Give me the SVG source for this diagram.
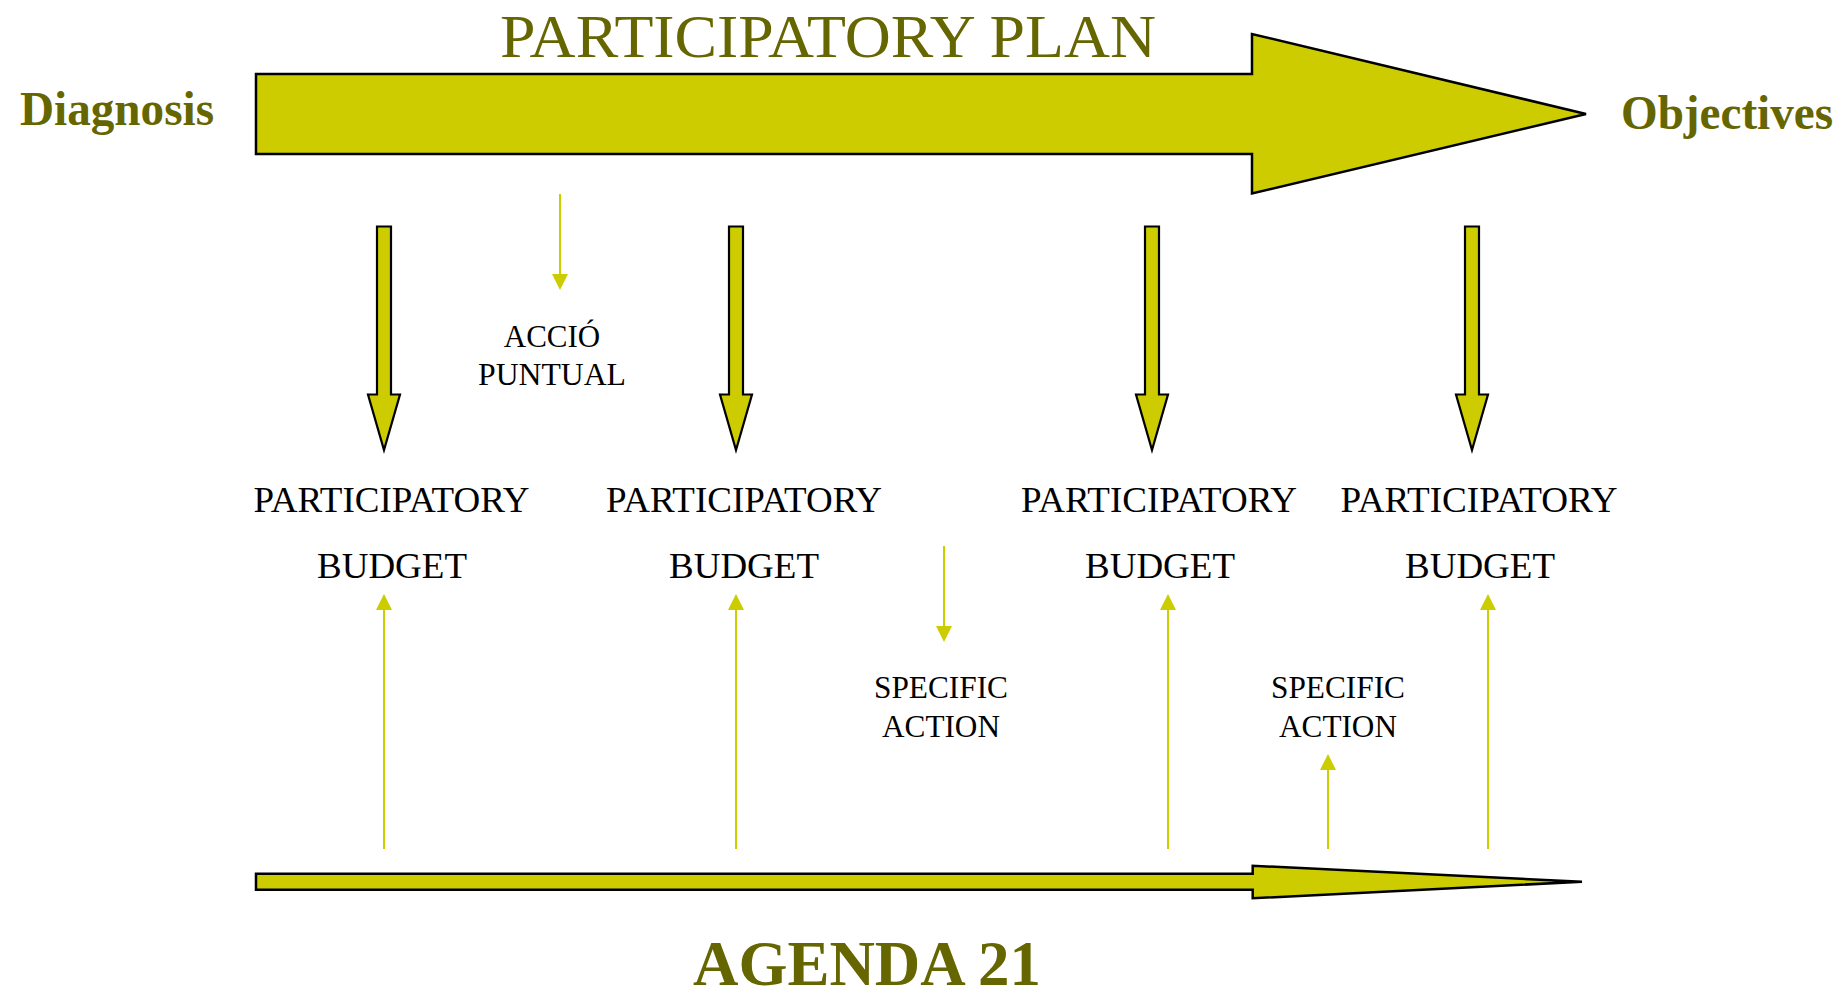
<svg xmlns="http://www.w3.org/2000/svg" width="1841" height="989" viewBox="0 0 1841 989">
<style>
.big{fill:#CCCC00;stroke:#000;stroke-width:2.5;stroke-linejoin:miter}
.blk{fill:#CCCC00;stroke:#000;stroke-width:2.2}
.thin{stroke:#CCCC00;stroke-width:2;fill:none}
.ol{font-family:"Liberation Serif","Times New Roman",serif;fill:#666600}
.lbl{font-family:"Liberation Serif","Times New Roman",serif;fill:#000;text-anchor:middle}
.pb{font-size:36px}
.sm{font-size:31px}
</style>
<defs>
<marker id="ah" viewBox="0 0 16 16" refX="0" refY="8" markerWidth="16" markerHeight="16" markerUnits="userSpaceOnUse" orient="auto">
<path d="M0,0 L16,8 L0,16 z" fill="#CCCC00"/>
</marker>
</defs>
<rect width="1841" height="989" fill="#fff"/>

<g id="participatory-plan">
<polygon class="big" points="256,74 1252,74 1252,34 1586,114 1252,193.5 1252,154 256,154"/>
<text class="ol" x="828" y="57" font-size="62" text-anchor="middle" textLength="656" lengthAdjust="spacingAndGlyphs">PARTICIPATORY PLAN</text>
</g>
<g id="diagnosis"><text class="ol" x="20" y="125" font-size="48" font-weight="bold" textLength="194" lengthAdjust="spacingAndGlyphs">Diagnosis</text></g>
<g id="objectives"><text class="ol" x="1621" y="129" font-size="48" font-weight="bold" textLength="212" lengthAdjust="spacingAndGlyphs">Objectives</text></g>

<g id="agenda21">
<polygon class="big" points="256,873.7 1252.7,873.7 1252.7,865.7 1582,881.7 1252.7,898.3 1252.7,889.7 256,889.7"/>
<text class="ol" x="867" y="985" font-size="63" font-weight="bold" text-anchor="middle" textLength="348" lengthAdjust="spacingAndGlyphs">AGENDA 21</text>
</g>

<g id="block-arrows">
<polygon class="blk" points="377,226.5 391,226.5 391,394.5 400,394.5 384,450 368,394.5 377,394.5"/>
<polygon class="blk" points="729,226.5 743,226.5 743,394.5 752,394.5 736,450 720,394.5 729,394.5"/>
<polygon class="blk" points="1145,226.5 1159,226.5 1159,394.5 1168,394.5 1152,450 1136,394.5 1145,394.5"/>
<polygon class="blk" points="1465,226.5 1479,226.5 1479,394.5 1488,394.5 1472,450 1456,394.5 1465,394.5"/>
</g>

<g id="budget1">
<text class="lbl pb" x="391.5" y="511.7" textLength="276" lengthAdjust="spacingAndGlyphs">PARTICIPATORY</text>
<text class="lbl pb" x="392" y="578.3" textLength="150" lengthAdjust="spacingAndGlyphs">BUDGET</text>
</g>
<g id="budget2">
<text class="lbl pb" x="744" y="511.7" textLength="276" lengthAdjust="spacingAndGlyphs">PARTICIPATORY</text>
<text class="lbl pb" x="744" y="578.3" textLength="150" lengthAdjust="spacingAndGlyphs">BUDGET</text>
</g>
<g id="budget3">
<text class="lbl pb" x="1159" y="511.7" textLength="276" lengthAdjust="spacingAndGlyphs">PARTICIPATORY</text>
<text class="lbl pb" x="1160" y="578.3" textLength="150" lengthAdjust="spacingAndGlyphs">BUDGET</text>
</g>
<g id="budget4">
<text class="lbl pb" x="1479" y="511.7" textLength="277" lengthAdjust="spacingAndGlyphs">PARTICIPATORY</text>
<text class="lbl pb" x="1480" y="578.3" textLength="150" lengthAdjust="spacingAndGlyphs">BUDGET</text>
</g>

<g id="accio-puntual">
<text class="lbl sm" x="552" y="347">ACCIÓ</text>
<text class="lbl sm" x="552" y="385" textLength="148" lengthAdjust="spacingAndGlyphs">PUNTUAL</text>
</g>
<g id="specific-action1">
<text class="lbl sm" x="941" y="698.3" textLength="134" lengthAdjust="spacingAndGlyphs">SPECIFIC</text>
<text class="lbl sm" x="941" y="736.7" textLength="118" lengthAdjust="spacingAndGlyphs">ACTION</text>
</g>
<g id="specific-action2">
<text class="lbl sm" x="1338" y="698.3" textLength="134" lengthAdjust="spacingAndGlyphs">SPECIFIC</text>
<text class="lbl sm" x="1338" y="736.7" textLength="118" lengthAdjust="spacingAndGlyphs">ACTION</text>
</g>

<g id="connectors">
<line class="thin" x1="560" y1="194" x2="560" y2="274" marker-end="url(#ah)"/>
<line class="thin" x1="944" y1="546" x2="944" y2="626" marker-end="url(#ah)"/>
<line class="thin" x1="384" y1="849" x2="384" y2="610" marker-end="url(#ah)"/>
<line class="thin" x1="736" y1="849" x2="736" y2="610" marker-end="url(#ah)"/>
<line class="thin" x1="1168" y1="849" x2="1168" y2="610" marker-end="url(#ah)"/>
<line class="thin" x1="1328" y1="849" x2="1328" y2="770" marker-end="url(#ah)"/>
<line class="thin" x1="1488" y1="849" x2="1488" y2="610" marker-end="url(#ah)"/>
</g>
</svg>
